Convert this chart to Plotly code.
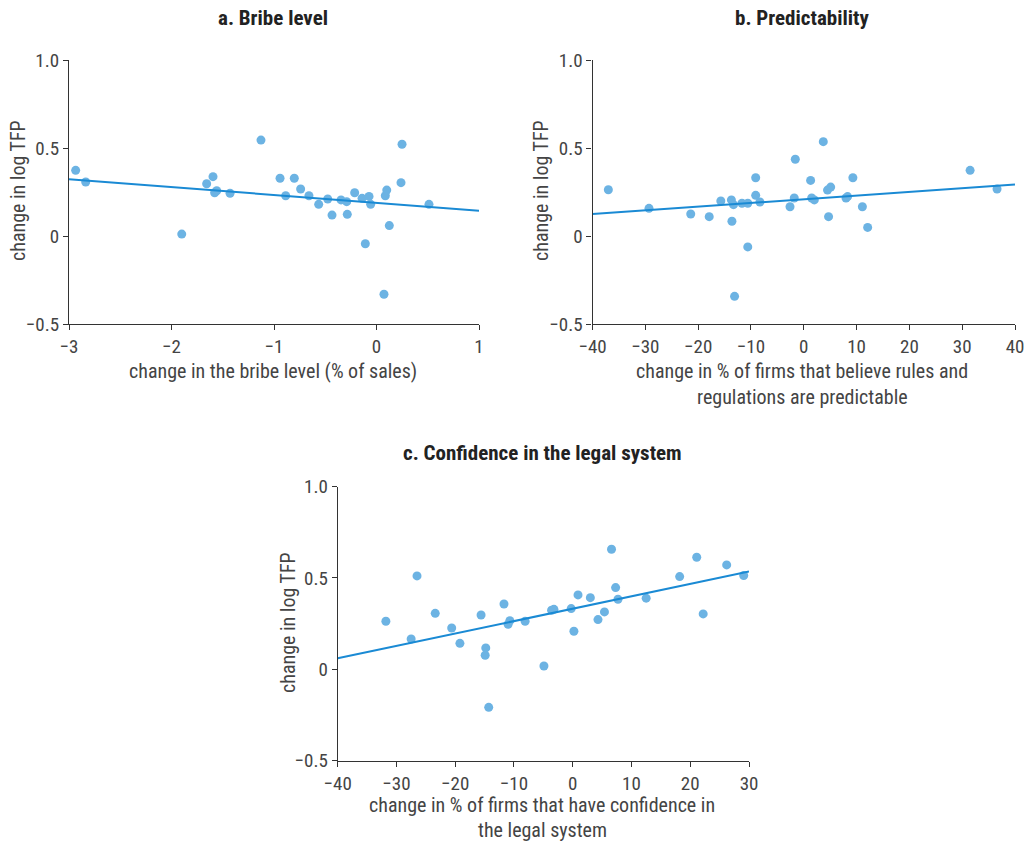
import plotly.graph_objects as go

# Panel a: change in bribe level (% of sales) vs change in log TFP
bribe_x = [-2.935, -2.837, -1.90, -1.127, -1.657, -1.595, -1.579, -1.559, -1.429,
           -0.941, -0.886, -0.802, -0.740, -0.659, -0.564, -0.476, -0.434, -0.346,
           -0.291, -0.285, -0.213, -0.141, -0.109, -0.073, -0.057, 0.073, 0.086,
           0.100, 0.125, 0.239, 0.249, 0.512]
bribe_y = [0.373, 0.307, 0.011, 0.545, 0.297, 0.337, 0.246, 0.257, 0.243,
           0.328, 0.229, 0.328, 0.267, 0.229, 0.180, 0.210, 0.119, 0.205,
           0.195, 0.123, 0.246, 0.214, -0.044, 0.225, 0.180, -0.331, 0.229,
           0.261, 0.059, 0.303, 0.521, 0.180]
bribe_fit_x = [-3, 1]
bribe_fit_y = [0.322, 0.144]

# Panel b: change in % of firms finding rules predictable
pred_x = [-37.0, -29.3, -21.4, -17.9, -15.7, -13.7, -13.6, -13.3, -13.1, -11.7,
          -10.6, -10.6, -9.1, -9.1, -8.3, -2.6, -1.8, -1.6, 1.3, 3.7, 1.5, 2.0,
          4.5, 5.1, 4.7, 8.0, 8.3, 9.3, 11.1, 12.1, 31.5, 36.6]
pred_y = [0.263, 0.157, 0.125, 0.110, 0.199, 0.205, 0.084, 0.178, -0.343, 0.186,
          0.186, -0.062, 0.331, 0.231, 0.193, 0.166, 0.216, 0.436, 0.316, 0.536,
          0.216, 0.205, 0.261, 0.278, 0.110, 0.216, 0.224, 0.331, 0.166, 0.049,
          0.373, 0.267]
pred_fit_x = [-40, 40]
pred_fit_y = [0.125, 0.292]

# Panel c: change in % of firms with confidence in the legal system
legal_x = [-31.8, -27.5, -26.5, -23.4, -20.6, -19.2, -15.6, -14.8, -14.9, -14.3,
           -11.7, -10.7, -11.0, -8.1, -4.9, -3.6, -3.2, -0.26, 0.2, 0.9, 3.0,
           4.3, 5.4, 6.6, 7.3, 7.7, 12.5, 18.2, 21.1, 22.2, 26.2, 29.1]
legal_y = [0.263, 0.166, 0.511, 0.306, 0.226, 0.142, 0.297, 0.117, 0.077, -0.208,
           0.357, 0.266, 0.246, 0.263, 0.018, 0.323, 0.328, 0.332, 0.208, 0.407,
           0.392, 0.272, 0.314, 0.657, 0.447, 0.383, 0.389, 0.507, 0.613, 0.303,
           0.571, 0.513]
legal_fit_x = [-40, 30]
legal_fit_y = [0.060, 0.535]

y_ticks = [-0.5, 0, 0.5, 1.0]
y_tick_text = ["\u22120.5", "0", "0.5", "1.0"]
bribe_ticks = [-3, -2, -1, 0, 1]
pred_ticks = [-40, -30, -20, -10, 0, 10, 20, 30, 40]
legal_ticks = [-40, -30, -20, -10, 0, 10, 20, 30]


def fmt(v):
    return ("\u2212" + str(abs(v))) if v < 0 else str(v)


W, H = 1035, 842
FONT = "Liberation Sans Narrow, Roboto Condensed, DejaVu Sans Condensed, Arial Narrow, sans-serif"
DOT = "#6cb3e3"
LINE = "#1a8ad4"
AX = "#333333"
TXT = "#444444"


def px_x(a, b):
    return [a / W, b / W]


def px_y(top, bottom):
    return [1 - bottom / H, 1 - top / H]


fig = go.Figure()

panels = [
    ("", bribe_x, bribe_y, bribe_fit_x, bribe_fit_y, [-3, 1], bribe_ticks,
     px_x(69, 479), px_y(60, 324)),
    ("2", pred_x, pred_y, pred_fit_x, pred_fit_y, [-40, 40], pred_ticks,
     px_x(592.5, 1015), px_y(60, 324)),
    ("3", legal_x, legal_y, legal_fit_x, legal_fit_y, [-40, 30], legal_ticks,
     px_x(337.7, 749), px_y(486.5, 760.7)),
]

for suf, xs, ys, fx, fy, xr, xt, dx, dy in panels:
    xa, ya = "x" + suf, "y" + suf
    fig.add_trace(go.Scatter(x=xs, y=ys, mode="markers", xaxis=xa, yaxis=ya,
                             marker=dict(color=DOT, size=9, line=dict(width=0)),
                             cliponaxis=False, showlegend=False))
    fig.add_trace(go.Scatter(x=fx, y=fy, mode="lines", xaxis=xa, yaxis=ya,
                             line=dict(color=LINE, width=2), showlegend=False))
    common = dict(showline=True, linecolor=AX, linewidth=1.2, ticks="outside",
                  ticklen=5, tickcolor=AX, tickwidth=1.2, showgrid=False,
                  zeroline=False, automargin=False,
                  tickfont=dict(family=FONT, size=19, color=TXT))
    fig.update_layout(**{
        "xaxis" + suf: dict(domain=dx, range=xr, tickvals=xt,
                            ticktext=[fmt(v) for v in xt], anchor=ya, **common),
        "yaxis" + suf: dict(domain=dy, range=[-0.5, 1.0], tickvals=y_ticks,
                            ticktext=y_tick_text, anchor=xa, **common),
    })

annotations = []


def text(x, y, s, size=20, bold=False, angle=0):
    annotations.append(dict(
        x=x / W, y=1 - y / H, xref="paper", yref="paper", text=s, showarrow=False,
        textangle=angle, xanchor="center", yanchor="middle",
        font=dict(family=FONT, size=size, color="#222222" if bold else TXT)))


text(273, 18, "<b>a. Bribe level</b>", size=21, bold=True)
text(802, 18, "<b>b. Predictability</b>", size=21, bold=True)
text(542, 453, "<b>c. Confidence in the legal system</b>", size=21, bold=True)

text(18, 191, "change in log TFP", angle=-90)
text(541, 191, "change in log TFP", angle=-90)
text(288, 623, "change in log TFP", angle=-90)

text(273, 371, "change in the bribe level (% of sales)")
text(802, 371, "change in % of firms that believe rules and")
text(802, 397, "regulations are predictable")
text(542, 805, "change in % of firms that have confidence in")
text(542, 830, "the legal system")

fig.update_layout(width=W, height=H, margin=dict(l=0, r=0, t=0, b=0),
                  paper_bgcolor="white", plot_bgcolor="white",
                  annotations=annotations)

fig.write_html("out.html", config={"displayModeBar": False})
